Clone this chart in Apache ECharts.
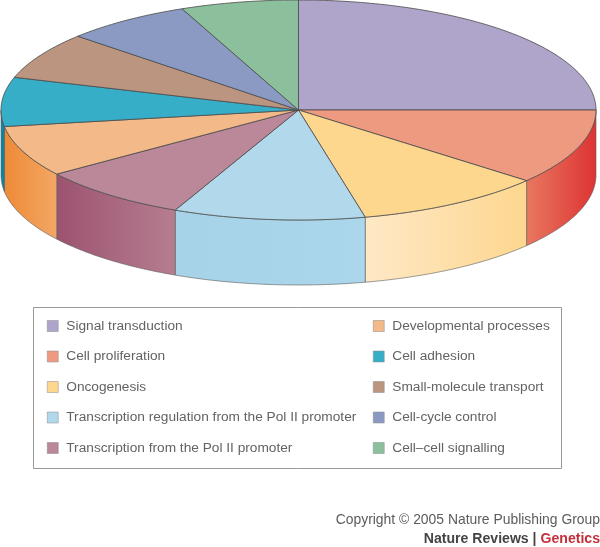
<!DOCTYPE html>
<html><head><meta charset="utf-8">
<style>html,body{margin:0;padding:0;background:#fff}#c{width:600px;height:547px}</style>
<script src="https://cdn.jsdelivr.net/npm/echarts@6/dist/echarts.min.js"></script>
</head><body><div id="c"></div>
<script>
const categories = ['Signal transduction','Cell proliferation','Oncogenesis','Transcription regulation from the Pol II promoter','Transcription from the Pol II promoter','Developmental processes','Cell adhesion','Small-molecule transport','Cell-cycle control','Cell\u2013cell signalling'];
const values = [25.0, 11.1, 10.3, 10.4, 8.3, 7.5, 7.2, 6.9, 6.9, 6.4];
const topColors = ['#AFA5CB','#EE9A80','#FED78F','#B2D8EB','#BB8899','#F3B988','#37AEC8','#BB9580','#8A9AC2','#8CC09C'];
const sideLeft = ['#AFA5CB','#E8785F','#FFE8C6','#A6D3E8','#9C5370','#EE8A35','#0A86A8','#BB9580','#8A9AC2','#8CC09C'];
const sideRight = ['#AFA5CB','#DD3333','#FDD78F','#ABD6EB','#B67D90','#F3A765','#0A86A8','#BB9580','#8A9AC2','#8CC09C'];

const CX = 298.5, CY = 110, RX = 297.5, RY = 110, DEPTH = 65;
const total = values.reduce((a, b) => a + b, 0);
function pt(deg, dy) {
  const r = deg * Math.PI / 180;
  return [CX + RX * Math.cos(r), CY + RY * Math.sin(r) + (dy || 0)];
}
function arc(a, b, dy) {
  const out = [], n = Math.max(2, Math.ceil(Math.abs(b - a)));
  for (let i = 0; i <= n; i++) out.push(pt(a + (b - a) * i / n, dy));
  return out;
}
let cum = 0;
const spans = values.map(v => { const s = cum; cum += v; return [s / total * 360 - 90, cum / total * 360 - 90]; });

const series = categories.map((name, i) => ({
  type: 'custom', name, coordinateSystem: 'none', silent: true,
  itemStyle: { color: topColors[i] },
  data: [[values[i]]],
  renderItem() {
    const [a, b] = spans[i];
    const children = [];
    const sa = Math.max(a, 0), sb = Math.min(b, 180);
    if (sb > sa) {
      const pts = arc(sa, sb, 0).concat(arc(sb, sa, DEPTH));
      children.push({
        type: 'polygon', shape: { points: pts },
        style: {
          fill: new echarts.graphic.LinearGradient(0, 0, 1, 0, [
            { offset: 0, color: sideLeft[i] }, { offset: 1, color: sideRight[i] }]),
          stroke: '#5a5a5a', lineWidth: 0.6
        }
      });
    }
    children.push({
      type: 'polygon', shape: { points: [[CX, CY]].concat(arc(a, b, 0)) },
      style: { fill: topColors[i], stroke: '#4a4a4a', lineWidth: 0.8 }
    });
    return { type: 'group', children };
  }
}));

const font = 'Liberation Sans';
const legendBase = {
  orient: 'vertical', itemWidth: 11, itemHeight: 11, itemGap: 15.5, icon: 'rect',
  selectedMode: false, padding: 0,
  itemStyle: { borderColor: '#888', borderWidth: 0.5 },
  textStyle: { fontFamily: font, fontSize: 13.7, color: '#636363', padding: [0, 0, 0, 3], lineHeight: 15 }
};
const chart = echarts.init(document.getElementById('c'), null, { renderer: 'canvas' });
chart.setOption({
  animation: false,
  backgroundColor: '#fff',
  legend: [
    Object.assign({}, legendBase, { left: 47, top: 318.5, data: categories.slice(0, 5) }),
    Object.assign({}, legendBase, { left: 373, top: 318.5, data: categories.slice(5) })
  ],
  series,
  graphic: [
    { type: 'rect', shape: { x: 33.5, y: 307.5, width: 528, height: 161 }, style: { fill: 'none', stroke: '#999', lineWidth: 1 } },
    { type: 'text', style: { x: 600, y: 520, text: 'Copyright \u00A9 2005 Nature Publishing Group', align: 'right', verticalAlign: 'middle', font: '13.9px "Liberation Sans"', fill: '#5c5c5c' } },
    { type: 'text', style: { x: 600, y: 539, text: '{a|Nature Reviews | }{b|Genetics}', align: 'right', verticalAlign: 'middle',
        rich: { a: { fontFamily: font, fontWeight: 'bold', fontSize: 14.1, color: '#444', fill: '#444' },
                b: { fontFamily: font, fontWeight: 'bold', fontSize: 14.1, color: '#C4303A', fill: '#C4303A' } } } }
  ]
});
</script></body></html>
